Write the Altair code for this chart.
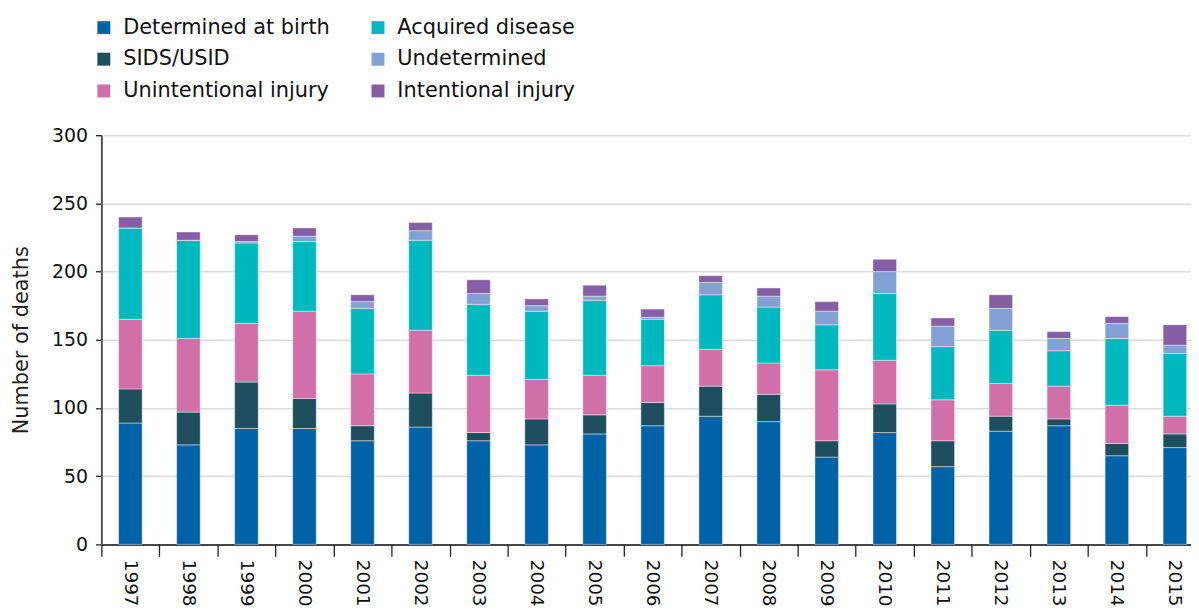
import altair as alt
import pandas as pd

years = ["1997", "1998", "1999", "2000", "2001", "2002", "2003", "2004", "2005", "2006",
         "2007", "2008", "2009", "2010", "2011", "2012", "2013", "2014", "2015"]

determined_at_birth = [89, 73, 85, 85, 76, 86, 76, 73, 81, 87, 94, 90, 64, 82, 57, 83, 87, 65, 71]
sids_usid = [25, 24, 34, 22, 11, 25, 6, 19, 14, 17, 22, 20, 12, 21, 19, 11, 5, 9, 10]
unintentional_injury = [51, 54, 43, 64, 38, 46, 42, 29, 29, 27, 27, 23, 52, 32, 30, 24, 24, 28, 13]
acquired_disease = [67, 72, 59, 51, 48, 66, 52, 50, 55, 34, 40, 41, 33, 49, 39, 39, 26, 49, 46]
undetermined = [0, 0, 1, 4, 5, 7, 8, 4, 3, 1.5, 9, 8, 10, 16, 15, 16, 9, 11, 6]
intentional_injury = [8, 6, 5, 6, 5, 6, 10, 5, 8, 6, 5, 6, 7, 9, 6, 10, 5, 5, 15]

series = [
    ("Determined at birth", determined_at_birth, "#0063a7"),
    ("SIDS/USID", sids_usid, "#1e4f5f"),
    ("Unintentional injury", unintentional_injury, "#d06fa8"),
    ("Acquired disease", acquired_disease, "#00b9bf"),
    ("Undetermined", undetermined, "#82a1d4"),
    ("Intentional injury", intentional_injury, "#855ea6"),
]

rows = []
for idx, (name, vals, _) in enumerate(series):
    for y, v in zip(years, vals):
        rows.append({"year": y, "cause": name, "deaths": v, "stack": idx})
df = pd.DataFrame(rows)

names = [n for n, _, _ in series]
colors = [c for _, _, c in series]

FONT = "DejaVu Sans"

chart = alt.Chart(df).mark_bar(
    stroke="#ffffff", strokeWidth=0.6, strokeOpacity=0.7,
    width=alt.RelativeBandSize(0.406),
).encode(
    x=alt.X("year:N", sort=years,
            scale=alt.Scale(paddingInner=0, paddingOuter=0, range=[0, 1110]),
            axis=alt.Axis(title=None, labelAngle=90, labelAlign="left",
                          labelBaseline="middle", labelFontSize=18.5,
                          labelPadding=3, tickSize=12, tickBand="extent",
                          tickColor="#222222", tickWidth=1.3,
                          domainColor="#111111", domainWidth=1.5,
                          labelColor="#111111", labelFont=FONT, grid=False)),
    y=alt.Y("deaths:Q", stack="zero",
            scale=alt.Scale(domain=[0, 300]),
            axis=alt.Axis(title="Number of deaths", values=[0, 50, 100, 150, 200, 250, 300],
                          labelFontSize=19, labelFont=FONT, labelColor="#111111",
                          labelPadding=8, tickSize=6, tickColor="#222222", tickWidth=1.3,
                          domainColor="#555555", domainWidth=2,
                          gridColor="#dcdcdc", gridWidth=1.5,
                          titleFontSize=21, titleFont=FONT, titleFontWeight="normal",
                          titleColor="#222222", titlePadding=20)),
    color=alt.Color("cause:N",
                    scale=alt.Scale(domain=names, range=colors),
                    legend=alt.Legend(title=None, orient="none", legendX=-8, legendY=-119,
                                      columns=2, symbolType="square", symbolSize=169,
                                      symbolStrokeWidth=0, labelFontSize=21, labelFont=FONT,
                                      labelColor="#111111", labelOffset=9, labelLimit=400,
                                      rowPadding=10, columnPadding=37, padding=0)),
    order=alt.Order("stack:Q", sort="ascending"),
).properties(
    width=1097, height=412,
    autosize=alt.AutoSizeParams(type="none"),
    padding={"left": 94, "top": 126, "right": 0, "bottom": 64},
).configure_view(stroke=None)

chart.save("out.html", embed_options={"renderer": "svg", "actions": False})
